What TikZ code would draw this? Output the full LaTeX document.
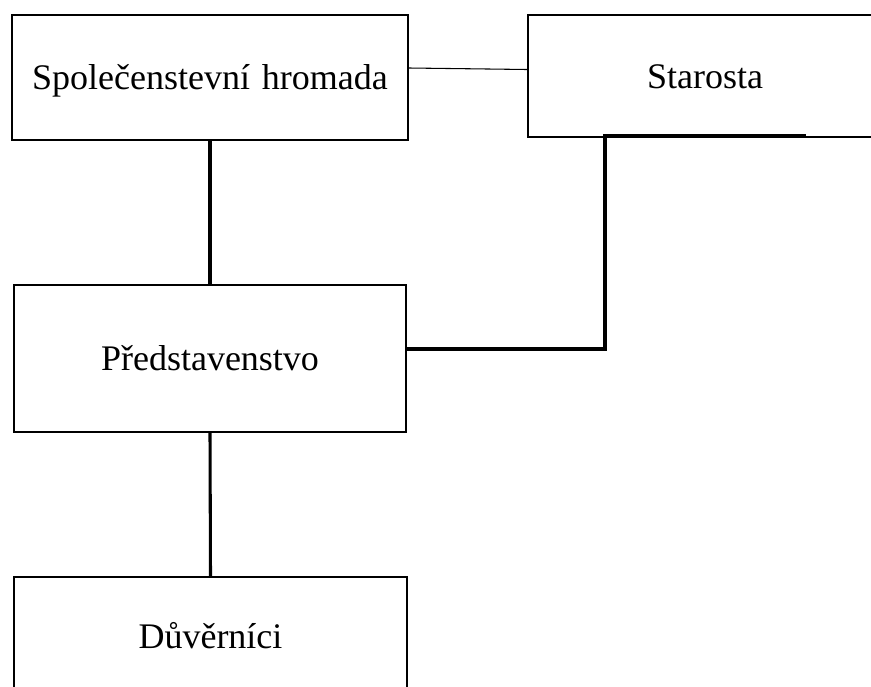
\documentclass[tikz,border=0pt]{standalone}
\usepackage{fontspec}
\setmainfont{Liberation Serif}
\usetikzlibrary{calc}

\begin{document}
\begin{tikzpicture}[x=0.75pt,y=-0.75pt,
      every node/.style={shape=rectangle,draw,line width=1.5pt,align=center,
        inner sep=0pt,text height=18pt,text depth=0pt,
        font=\fontsize{27}{32}\selectfont},
      link/.style={line width=2.3pt},
      thinlink/.style={line width=0.8pt}]
      \useasboundingbox (0,0) rectangle (871,686);
      \node (hromada) at (210,77.5) [minimum width=297pt,minimum height=93.75pt]
        {Společenstevní\hspace{0.33em}hromada};
      \node (starosta) at (705,76) [minimum width=265.5pt,minimum height=91.5pt]
        {Starosta};
      \node (predst) at (210,358.5) [minimum width=294pt,minimum height=110.25pt]
        {Představenstvo};
      \node (duvernici) at (210.5,636) [minimum width=294.75pt,minimum height=88.5pt]
        {Důvěrníci};
      \draw[thinlink] ($(hromada.east)+(0,-9.5)$) -- ($(starosta.west)+(0,-6.5)$);
      \draw[link] (hromada.south) -- (predst.north);
      \draw[link] ($(predst.east)+(0,-9.5)$) -| ($(starosta.south west)+(78,-2)$)
        -- ++(201,0);
      \draw[link] (predst.south) -- (duvernici.north);
    \end{tikzpicture}
\end{document}
